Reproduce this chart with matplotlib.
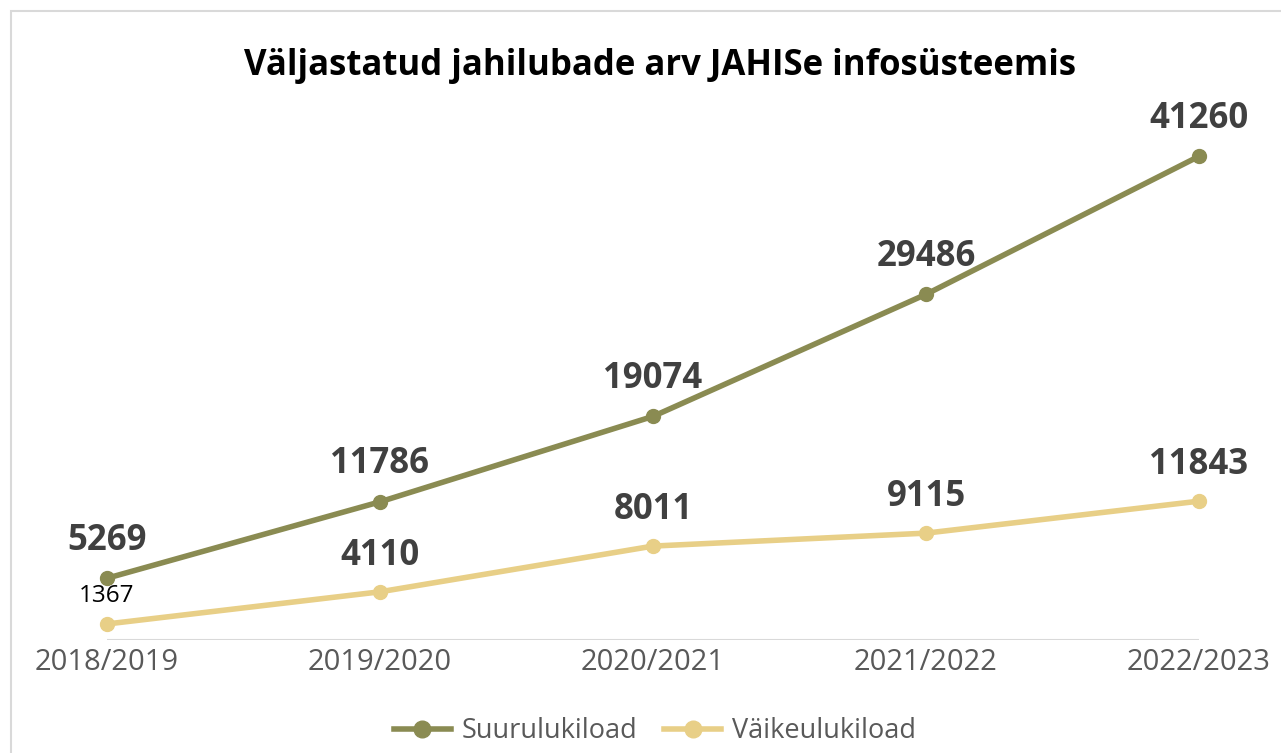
import matplotlib.pyplot as plt
from matplotlib.patches import Rectangle

plt.rcParams['font.family'] = ['Open Sans', 'DejaVu Sans']

# data
seasons = ['2018/2019', '2019/2020', '2020/2021', '2021/2022', '2022/2023']
suur = [5269, 11786, 19074, 29486, 41260]
vaike = [1367, 4110, 8011, 9115, 11843]

green = '#8A8B52'
yellow = '#E8CF87'

W, H = 1281, 753
fig = plt.figure(figsize=(W / 100, H / 100), dpi=100)

# chart frame (cropped on right and bottom in the original)
fig.add_artist(Rectangle((11 / W, -0.05), 1.2, 1 - 11 / H + 0.05,
                         transform=fig.transFigure, fill=False,
                         edgecolor='#D9D9D9', linewidth=1.5))

y0 = (H - 640) / H
ax = fig.add_axes([0, y0, 1, 0.7006])
x = list(range(len(seasons)))
step = 273
ax.set_xlim(-107 / step, 4 + (W - 1199) / step)
ax.set_ylim(0, 45000)

ax.plot(x, suur, color=green, lw=4, marker='o', ms=10, label='Suurulukiload', zorder=3)
ax.plot(x, vaike, color=yellow, lw=4, marker='o', ms=10, label='Väikeulukiload', zorder=3)

ax.hlines(0, 0, 4, color='#D9D9D9', lw=1.5, zorder=1)

for xi, v in zip(x, suur):
    ax.annotate(str(v), (xi, v), xytext=(0, 27), textcoords='offset points',
                ha='center', va='center', fontsize=25, fontweight='bold', color='#404040')
for xi, v in zip(x, vaike):
    if xi == 0:
        ax.annotate(str(v), (xi, v), xytext=(0, 20), textcoords='offset points',
                    ha='center', va='center', fontsize=17.5, color='black')
    else:
        ax.annotate(str(v), (xi, v), xytext=(0, 26), textcoords='offset points',
                    ha='center', va='center', fontsize=25, fontweight='bold', color='#404040')

ax.set_xticks(x)
ax.set_xticklabels(seasons, fontsize=21, color='#595959')
ax.tick_params(axis='x', length=0, pad=6)
ax.set_yticks([])
for s in ax.spines.values():
    s.set_visible(False)

fig.text(660 / W, 1 - 66 / H, 'Väljastatud jahilubade arv JAHISe infosüsteemis',
         ha='center', va='center', fontsize=25, fontweight='bold', color='black')

fig.legend(loc='center', bbox_to_anchor=(655 / W, 1 - 731 / H), ncol=2, frameon=False,
           fontsize=19.5, labelcolor='#595959', handlelength=2.1, columnspacing=1.0,
           handletextpad=0.4, markerscale=1.2)

fig.savefig('out.png', dpi=100)
